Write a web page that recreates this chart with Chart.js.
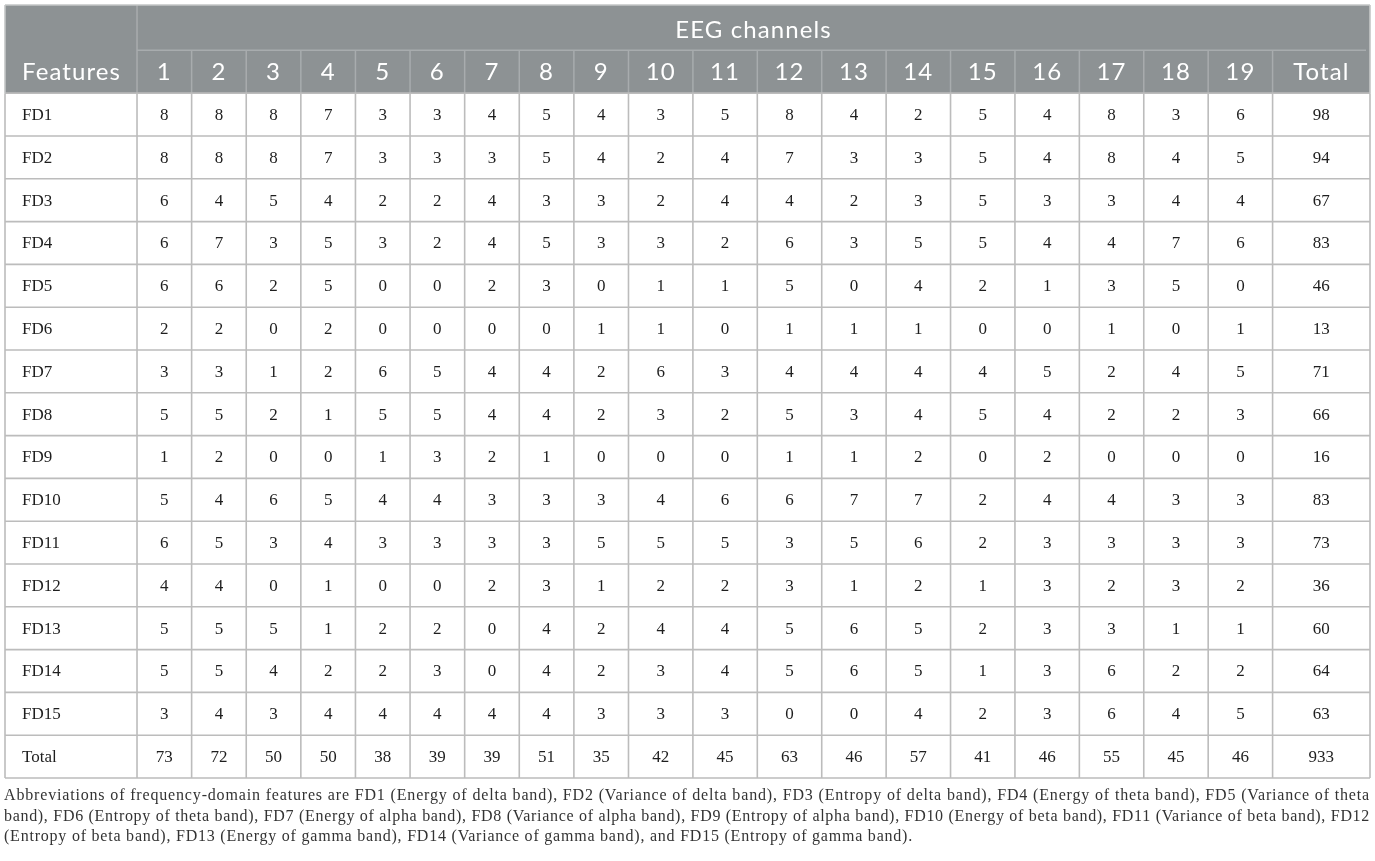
<!DOCTYPE html>
<html>
<head>
<meta charset="utf-8">
<script src="https://cdn.jsdelivr.net/npm/chart.js@4.4.1/dist/chart.umd.min.js"></script>
<style>
  body { margin: 0; background: #fff; }
  #wrap { position: relative; width: 1375px; height: 861px; }
  #note { position: absolute; left: 4px; top: 785px; width: 1366px;
          font-family: "Liberation Serif", serif; font-size: 16px; line-height: 20.5px; color: #333; }
  #note div { white-space: nowrap; }
  #note .j { text-align: justify; text-align-last: justify; }
</style>
</head>
<body>
<div id="wrap">
  <canvas id="tableChart"></canvas>
  <div id="note">
    <div data-w="1364"><span>Abbreviations of frequency-domain features are FD1 (Energy of delta band), FD2 (Variance of delta band), FD3 (Entropy of delta band), FD4 (Energy of theta band), FD5 (Variance of theta</span></div>
    <div data-w="1364"><span>band), FD6 (Entropy of theta band), FD7 (Energy of alpha band), FD8 (Variance of alpha band), FD9 (Entropy of alpha band), FD10 (Energy of beta band), FD11 (Variance of beta band), FD12</span></div>
    <div data-w="909"><span>(Entropy of beta band), FD13 (Energy of gamma band), FD14 (Variance of gamma band), and FD15 (Entropy of gamma band).</span></div>
  </div>
</div>
<script>
// datos de la tabla
const groupTitle = 'EEG channels';
const firstHeader = 'Features';
const totalLabel = 'Total';
const channels = ['1','2','3','4','5','6','7','8','9','10','11','12','13','14','15','16','17','18','19'];
const features = ['FD1','FD2','FD3','FD4','FD5','FD6','FD7','FD8','FD9','FD10','FD11','FD12','FD13','FD14','FD15'];

const fd1  = [8,8,8,7,3,3,4,5,4,3,5,8,4,2,5,4,8,3,6];
const fd2  = [8,8,8,7,3,3,3,5,4,2,4,7,3,3,5,4,8,4,5];
const fd3  = [6,4,5,4,2,2,4,3,3,2,4,4,2,3,5,3,3,4,4];
const fd4  = [6,7,3,5,3,2,4,5,3,3,2,6,3,5,5,4,4,7,6];
const fd5  = [6,6,2,5,0,0,2,3,0,1,1,5,0,4,2,1,3,5,0];
const fd6  = [2,2,0,2,0,0,0,0,1,1,0,1,1,1,0,0,1,0,1];
const fd7  = [3,3,1,2,6,5,4,4,2,6,3,4,4,4,4,5,2,4,5];
const fd8  = [5,5,2,1,5,5,4,4,2,3,2,5,3,4,5,4,2,2,3];
const fd9  = [1,2,0,0,1,3,2,1,0,0,0,1,1,2,0,2,0,0,0];
const fd10 = [5,4,6,5,4,4,3,3,3,4,6,6,7,7,2,4,4,3,3];
const fd11 = [6,5,3,4,3,3,3,3,5,5,5,3,5,6,2,3,3,3,3];
const fd12 = [4,4,0,1,0,0,2,3,1,2,2,3,1,2,1,3,2,3,2];
const fd13 = [5,5,5,1,2,2,0,4,2,4,4,5,6,5,2,3,3,1,1];
const fd14 = [5,5,4,2,2,3,0,4,2,3,4,5,6,5,1,3,6,2,2];
const fd15 = [3,4,3,4,4,4,4,4,3,3,3,0,0,4,2,3,6,4,5];
const featureRows = [fd1,fd2,fd3,fd4,fd5,fd6,fd7,fd8,fd9,fd10,fd11,fd12,fd13,fd14,fd15];

const rowTotals = [98,94,67,83,46,13,71,66,16,83,73,36,60,64,63];
const channelTotals = [73,72,50,50,38,39,39,51,35,42,45,63,46,57,41,46,55,45,46];
const grandTotal = 933;

// anchos de columnas (unidades del eje x)
const featureColW = 132;
const narrowColW = 54.6;   // canales 1-9
const wideColW = 64.4;     // canales 10-19
const totalColW = 97.4;

const widths = [featureColW];
channels.forEach(function(ch) { widths.push(ch.length > 1 ? wideColW : narrowColW); });
widths.push(totalColW);
const edges = [0];
for (let i = 0; i < widths.length; i++) edges.push(edges[i] + widths[i]);
function colCenter(i) { return (edges[i] + edges[i + 1]) / 2; }

const headerTop = -2.06;
const bodyRows = features.length + 1;

// celdas del cuerpo
const bodyCells = [];
featureRows.forEach(function(row, r) {
    row.forEach(function(v, c) {
        bodyCells.push({x: colCenter(c + 1), y: r + 0.5, t: String(v)});
    });
    bodyCells.push({x: colCenter(widths.length - 1), y: r + 0.5, t: String(rowTotals[r])});
});
channelTotals.forEach(function(v, c) {
    bodyCells.push({x: colCenter(c + 1), y: features.length + 0.5, t: String(v)});
});
bodyCells.push({x: colCenter(widths.length - 1), y: features.length + 0.5, t: String(grandTotal)});

const rowLabelCells = features.concat([totalLabel]).map(function(f, r) {
    return {x: 0, y: r + 0.5, t: f};
});

const headerCells = [];
channels.forEach(function(ch, c) { headerCells.push({x: colCenter(c + 1), y: -0.5, t: ch}); });
headerCells.push({x: colCenter(widths.length - 1), y: -0.5, t: totalLabel});
const firstHeaderCells = [{x: 0, y: -0.5, t: firstHeader}];

const groupCells = [{x: (edges[1] + edges[edges.length - 1]) / 2, y: (headerTop - 1) / 2 + 0.06, t: groupTitle}];

const SERIF = '"Liberation Serif", "Times New Roman", serif';
const SANS = 'Lato, "Open Sans", sans-serif';

// dibuja fondo y lineas de la tabla
const gridPlugin = {
    id: 'tableGrid',
    beforeDatasetsDraw(chart) {
        const ctx = chart.ctx;
        const xs = chart.scales.x, ys = chart.scales.y;
        const X = function(v) { return xs.getPixelForValue(v); };
        const Y = function(v) { return ys.getPixelForValue(v); };
        const left = X(0), right = X(edges[edges.length - 1]);
        ctx.save();
        ctx.fillStyle = '#8d9294';
        ctx.fillRect(left, Y(headerTop), right - left, Y(0) - Y(headerTop));

        // lineas del encabezado
        ctx.strokeStyle = '#a8acae';
        ctx.lineWidth = 1.5;
        ctx.beginPath();
        ctx.moveTo(X(edges[1]), Y(headerTop)); ctx.lineTo(X(edges[1]), Y(0));
        ctx.moveTo(X(edges[1]), Y(-1)); ctx.lineTo(right - 4, Y(-1));
        for (let i = 2; i < edges.length - 1; i++) {
            ctx.moveTo(X(edges[i]), Y(-1)); ctx.lineTo(X(edges[i]), Y(0));
        }
        ctx.stroke();

        // lineas del cuerpo
        ctx.strokeStyle = '#bcbcbc';
        ctx.lineWidth = 1.6;
        ctx.beginPath();
        for (let r = 0; r <= bodyRows; r++) {
            ctx.moveTo(left, Y(r)); ctx.lineTo(right, Y(r));
        }
        for (let i = 0; i < edges.length; i++) {
            ctx.moveTo(X(edges[i]), Y(0)); ctx.lineTo(X(edges[i]), Y(bodyRows));
        }
        ctx.stroke();

        // borde exterior
        ctx.strokeStyle = '#c4c6c6';
        ctx.beginPath();
        ctx.moveTo(left, Y(headerTop)); ctx.lineTo(right, Y(headerTop));
        ctx.moveTo(left, Y(headerTop)); ctx.lineTo(left, Y(0));
        ctx.moveTo(right, Y(headerTop)); ctx.lineTo(right, Y(0));
        ctx.stroke();
        ctx.restore();
    },
    afterDatasetsDraw(chart) {
        const ctx = chart.ctx;
        ctx.save();
        ctx.textBaseline = 'middle';
        chart.data.datasets.forEach(function(ds, i) {
            const meta = chart.getDatasetMeta(i);
            ctx.font = ds.textFont;
            ctx.fillStyle = ds.textColor;
            ctx.textAlign = ds.textAlign;
            ctx.letterSpacing = ds.textSpacing || '0px';
            meta.data.forEach(function(el, j) {
                ctx.fillText(ds.data[j].t, el.x + (ds.textOffset || 0), el.y + (ds.textShift || 0));
            });
        });
        ctx.restore();
    }
};

const ctx = document.getElementById('tableChart').getContext('2d');
const tableChart = new Chart(ctx, {
    type: 'scatter',
    data: {
        datasets: [
            {data: bodyCells, pointRadius: 0, textFont: '17px ' + SERIF, textColor: '#1e1e1e', textAlign: 'center', textShift: 1},
            {data: rowLabelCells, pointRadius: 0, textFont: '17px ' + SERIF, textColor: '#1e1e1e', textAlign: 'left', textOffset: 17, textShift: 1},
            {data: headerCells, pointRadius: 0, textFont: '24px ' + SANS, textColor: '#ffffff', textAlign: 'center', textSpacing: '1.1px'},
            {data: firstHeaderCells, pointRadius: 0, textFont: '24px ' + SANS, textColor: '#ffffff', textAlign: 'left', textOffset: 17, textSpacing: '1.1px'},
            {data: groupCells, pointRadius: 0, textFont: '24px ' + SANS, textColor: '#ffffff', textAlign: 'center', textSpacing: '1.1px'}
        ]
    },
    options: {
        responsive: true,
        maintainAspectRatio: false,
        animation: false,
        events: [],
        layout: {autoPadding: false, padding: {left: 5, right: 5, top: 5, bottom: 83}},
        plugins: {legend: {display: false}, tooltip: {enabled: false}},
        scales: {
            x: {type: 'linear', display: false, min: 0, max: edges[edges.length - 1]},
            y: {type: 'linear', display: false, reverse: true, min: headerTop, max: bodyRows}
        }
    },
    plugins: [gridPlugin]
});

// espaciado de letras de cada linea de la nota segun el ancho del original
document.querySelectorAll('#note div').forEach(function(d) {
    const span = d.querySelector('span');
    const natural = span.getBoundingClientRect().width;
    const target = parseFloat(d.dataset.w);
    d.style.letterSpacing = ((target - natural) / span.textContent.length).toFixed(3) + 'px';
    if (target > 1000) d.classList.add('j');
});
</script>
</body>
</html>
